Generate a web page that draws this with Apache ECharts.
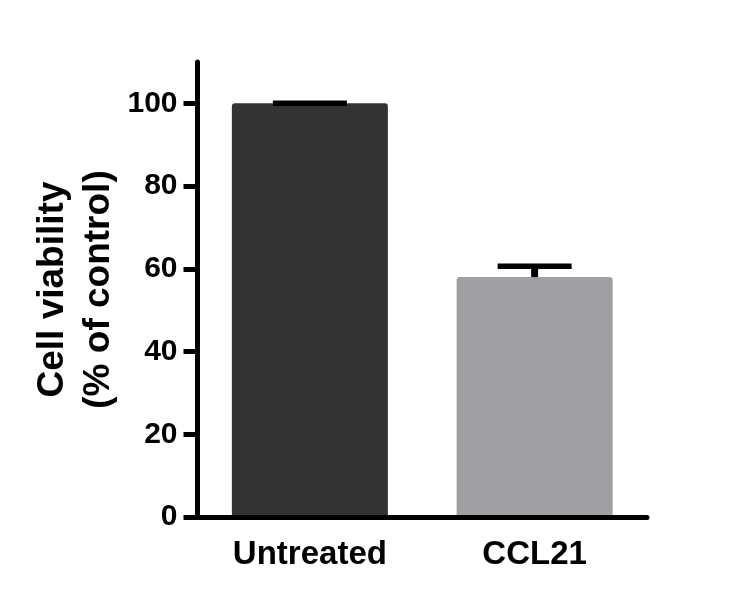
<!DOCTYPE html>
<html>
<head>
<meta charset="utf-8">
<script src="https://cdn.jsdelivr.net/npm/echarts@6/dist/echarts.min.js"></script>
<style>
  html, body { margin: 0; padding: 0; background: #ffffff; }
  #chart { width: 750px; height: 603px; }
</style>
</head>
<body>
<div id="chart"></div>
<script>
const categories = ['Untreated', 'CCL21'];
const meanValues = [100, 58];
const errorValues = [0, 2.6];
const barColors = ['#333333', '#a0a0a4'];
const yTicks = [0, 20, 40, 60, 80, 100];
const yAxisTitle = 'Cell viability\n(% of control)';

const FONT = '"Liberation Sans", Arial, Helvetica, sans-serif';

const chart = echarts.init(document.getElementById('chart'), null, { renderer: 'canvas' });

const option = {
  backgroundColor: '#ffffff',
  animation: false,
  grid: { left: 197.5, right: 103, top: 62, bottom: 86 },
  xAxis: {
    type: 'category',
    data: categories,
    z: 5,
    axisLine: { show: true, lineStyle: { color: '#000', width: 5 } },
    axisTick: { show: false },
    axisLabel: {
      margin: 21,
      color: '#000',
      fontFamily: FONT,
      fontWeight: 'bold',
      fontSize: 33
    },
    splitLine: { show: false }
  },
  yAxis: {
    type: 'value',
    min: 0,
    max: 110,
    interval: 20,
    z: 5,
    name: yAxisTitle,
    nameLocation: 'middle',
    nameRotate: 90,
    nameGap: 76,
    nameMoveOverlap: false,
    nameTextStyle: {
      color: '#000',
      fontFamily: FONT,
      fontWeight: 'bold',
      fontSize: 37,
      lineHeight: 46,
      align: 'center'
    },
    axisLine: { show: true, lineStyle: { color: '#000', width: 5 } },
    axisTick: {
      show: true,
      length: 14,
      lineStyle: { color: '#000', width: 5 },
      customValues: yTicks
    },
    axisLabel: {
      margin: 20,
      color: '#000',
      fontFamily: FONT,
      fontWeight: 'bold',
      fontSize: 30,
      customValues: yTicks
    },
    splitLine: { show: false }
  },
  series: [
    {
      type: 'bar',
      z: 2,
      barWidth: 156,
      data: meanValues.map((v, i) => ({
        value: v,
        itemStyle: {
          color: barColors[i],
          borderRadius: [3, 3, 0, 0]
        }
      }))
    },
    {
      type: 'custom',
      z: 3,
      data: meanValues.map((v, i) => [i, v, v + errorValues[i]]),
      renderItem: function (params, api) {
        const idx = api.value(0);
        const base = api.coord([idx, api.value(1)]);
        const top = api.coord([idx, api.value(2)]);
        const halfCap = 37;
        return {
          type: 'group',
          children: [
            {
              type: 'line',
              shape: { x1: base[0], y1: base[1], x2: top[0], y2: top[1] },
              style: { stroke: '#000', lineWidth: 7 }
            },
            {
              type: 'line',
              shape: { x1: top[0] - halfCap, y1: top[1], x2: top[0] + halfCap, y2: top[1] },
              style: { stroke: '#000', lineWidth: 5.5 }
            }
          ]
        };
      }
    }
  ]
};

chart.setOption(option);
</script>
</body>
</html>
